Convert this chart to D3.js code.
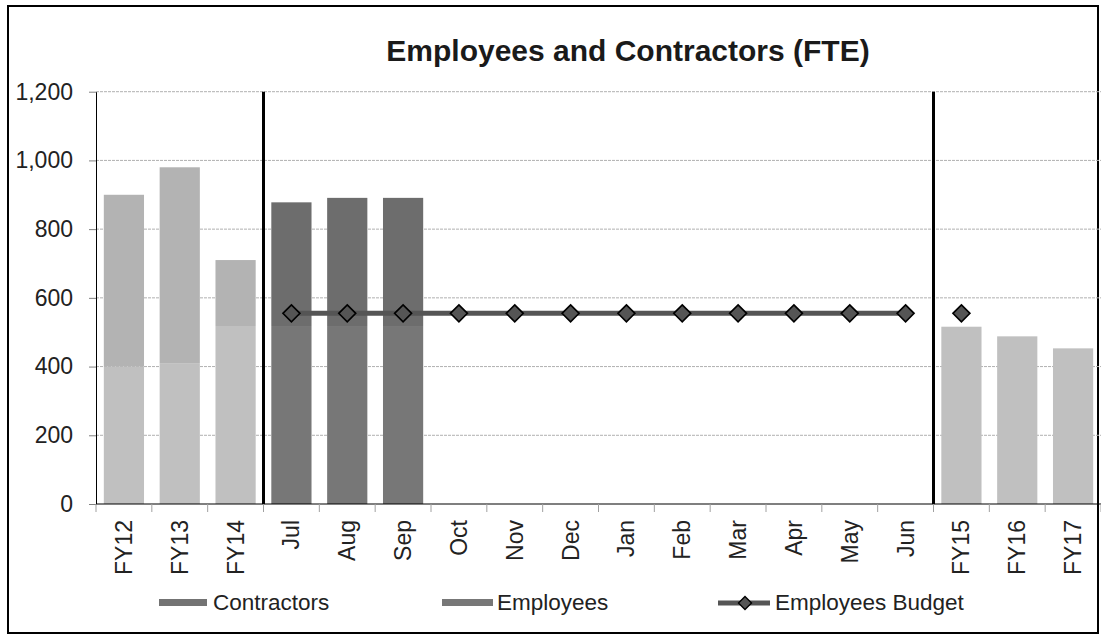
<!DOCTYPE html>
<html>
<head>
<meta charset="utf-8">
<script src="https://cdn.jsdelivr.net/npm/d3@7"></script>
<style>
  html, body { margin: 0; padding: 0; background: #fff; }
  svg { display: block; font-family: "Liberation Sans", Arial, sans-serif; }
</style>
</head>
<body>
<svg id="chart" width="1101" height="636"></svg>
<script>
// Categories: three fiscal-year actuals, twelve months of the current year, three plan years
const categories = ["FY12", "FY13", "FY14", "Jul", "Aug", "Sep", "Oct", "Nov", "Dec",
                    "Jan", "Feb", "Mar", "Apr", "May", "Jun", "FY15", "FY16", "FY17"];
const periods = ["year", "year", "year",
                 "month", "month", "month", "month", "month", "month",
                 "month", "month", "month", "month", "month", "month",
                 "plan", "plan", "plan"];
const employees   = [400, 410, 518, 518, 518, 518, null, null, null, null, null, null, null, null, null, 516, 488, 453];
const contractors = [500, 570, 192, 360, 373, 373, null, null, null, null, null, null, null, null, null, null, null, null];
const budget      = [null, null, null, 555, 555, 555, 555, 555, 555, 555, 555, 555, 555, 555, 555, 555, null, null];
const yTicks = [0, 200, 400, 600, 800, 1000, 1200];

const svg = d3.select("#chart");
const plot = { left: 96, right: 1101, top: 91.7, bottom: 504 };

// Bar fills per period group: [employees, contractors]
const fills = {
  year:  ["#c0c0c0", "#b3b3b3"],
  month: ["#777777", "#6d6d6d"],
  plan:  ["#c0c0c0", "#b3b3b3"]
};

const x = d3.scaleBand()
  .domain(categories)
  .range([plot.left, plot.right])
  .paddingInner(0.28)
  .paddingOuter(0.14);
const step = x.step();
const y = d3.scaleLinear().domain([0, 1200]).range([plot.bottom, plot.top]);

// Outer frame
svg.append("rect")
  .attr("x", 8).attr("y", 6)
  .attr("width", 1090).attr("height", 627)
  .attr("fill", "none").attr("stroke", "#000").attr("stroke-width", 2);

// Title
svg.append("text")
  .attr("x", 628).attr("y", 61)
  .attr("text-anchor", "middle")
  .attr("font-size", 30).attr("font-weight", "bold")
  .attr("fill", "#1a1a1a")
  .text("Employees and Contractors (FTE)");

// Horizontal dashed gridlines
svg.append("g").selectAll("line")
  .data(yTicks.filter(d => d > 0))
  .join("line")
  .attr("x1", plot.left).attr("x2", plot.right)
  .attr("y1", d => y(d)).attr("y2", d => y(d))
  .attr("stroke", "#b0b0b0").attr("stroke-width", 1)
  .attr("stroke-dasharray", "3,1");

// Stacked bars
const rows = categories.map((c, i) => ({
  cat: c, period: periods[i],
  emp: employees[i], con: contractors[i]
}));
const bars = svg.append("g");
bars.selectAll("rect.emp")
  .data(rows.filter(d => d.emp != null))
  .join("rect")
  .attr("class", "emp")
  .attr("x", d => x(d.cat)).attr("width", x.bandwidth())
  .attr("y", d => y(d.emp)).attr("height", d => y(0) - y(d.emp))
  .attr("fill", d => fills[d.period][0]);
bars.selectAll("rect.con")
  .data(rows.filter(d => d.con != null))
  .join("rect")
  .attr("class", "con")
  .attr("x", d => x(d.cat)).attr("width", x.bandwidth())
  .attr("y", d => y(d.emp + d.con)).attr("height", d => y(d.emp) - y(d.emp + d.con))
  .attr("fill", d => fills[d.period][1]);

// Y axis
const yAxis = svg.append("g")
  .attr("transform", `translate(${plot.left},0)`)
  .call(d3.axisLeft(y).tickValues(yTicks).tickFormat(d3.format(",")).tickSize(7).tickSizeOuter(0).tickPadding(16));
yAxis.select(".domain").attr("stroke", "#000");
yAxis.selectAll(".tick line").attr("stroke", "#808080");
yAxis.selectAll(".tick text")
  .attr("font-size", 23).attr("fill", "#222")
  .attr("font-family", "'Liberation Sans', Arial, sans-serif");

// X axis: baseline, boundary ticks and rotated labels
svg.append("line")
  .attr("x1", plot.left).attr("x2", plot.right)
  .attr("y1", y(0)).attr("y2", y(0))
  .attr("stroke", "#000").attr("stroke-width", 1.2);
svg.append("g").selectAll("line")
  .data(d3.range(categories.length + 1))
  .join("line")
  .attr("x1", i => plot.left + i * step).attr("x2", i => plot.left + i * step)
  .attr("y1", y(0)).attr("y2", y(0) + 8)
  .attr("stroke", "#a0a0a0");
svg.append("g").selectAll("text")
  .data(categories)
  .join("text")
  .attr("transform", d => `translate(${x(d) + x.bandwidth() / 2},520) rotate(-90)`)
  .attr("text-anchor", "end")
  .attr("dy", "0.35em")
  .attr("font-size", 23).attr("fill", "#222")
  .text(d => d);

// Period separators
const boundaries = categories
  .map((c, i) => i)
  .filter(i => i > 0 && periods[i] !== periods[i - 1])
  .map(i => plot.left + i * step);
svg.append("g").selectAll("line")
  .data(boundaries)
  .join("line")
  .attr("x1", d => d).attr("x2", d => d)
  .attr("y1", plot.top).attr("y2", plot.bottom)
  .attr("stroke", "#000").attr("stroke-width", 3);

// Budget line (drawn within each period) and diamond markers
const budgetPts = categories.map((c, i) => ({ cat: c, period: periods[i], v: budget[i] }))
  .filter(d => d.v != null);
const line = d3.line().x(d => x(d.cat) + x.bandwidth() / 2).y(d => y(d.v));
const groups = d3.groups(budgetPts, d => d.period);
svg.append("g").selectAll("path")
  .data(groups.filter(g => g[1].length > 1))
  .join("path")
  .attr("d", g => line(g[1]))
  .attr("fill", "none").attr("stroke", "#555").attr("stroke-width", 5);
const diamond = (cx, cy, r) => `M${cx},${cy - r}L${cx + r},${cy}L${cx},${cy + r}L${cx - r},${cy}Z`;
svg.append("g").selectAll("path")
  .data(budgetPts)
  .join("path")
  .attr("d", d => diamond(x(d.cat) + x.bandwidth() / 2, y(d.v), 8.5))
  .attr("fill", "#555").attr("stroke", "#000").attr("stroke-width", 1.6);

// Legend
const legY = 602;
const leg = svg.append("g").attr("font-size", 22.5).attr("fill", "#222");
leg.append("rect").attr("x", 159).attr("y", legY - 3).attr("width", 48).attr("height", 7).attr("fill", "#737373");
leg.append("text").attr("x", 213).attr("y", legY).attr("dy", "0.35em").text("Contractors");
leg.append("rect").attr("x", 442).attr("y", legY - 3).attr("width", 51).attr("height", 7).attr("fill", "#777777");
leg.append("text").attr("x", 497).attr("y", legY).attr("dy", "0.35em").text("Employees");
leg.append("line").attr("x1", 718).attr("x2", 770).attr("y1", legY + 1).attr("y2", legY + 1)
  .attr("stroke", "#555").attr("stroke-width", 5);
leg.append("path").attr("d", diamond(745, legY + 1, 6.5))
  .attr("fill", "#555").attr("stroke", "#000").attr("stroke-width", 1.4);
leg.append("text").attr("x", 775).attr("y", legY).attr("dy", "0.35em").text("Employees Budget");
</script>
</body>
</html>
